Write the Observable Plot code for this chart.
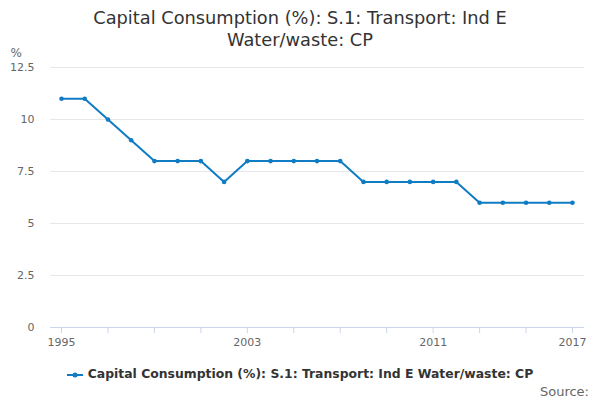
<!DOCTYPE html>
<html>
<head>
<meta charset="utf-8">
<script src="https://cdn.jsdelivr.net/npm/d3@7"></script>
<script src="https://cdn.jsdelivr.net/npm/@observablehq/plot@0.6"></script>
<style>
  body { margin: 0; background: #fff; font-family: "DejaVu Sans", sans-serif; }
  #wrap { position: relative; width: 600px; height: 400px; overflow: hidden; background: #fff; }
  #title { position: absolute; top: 7px; left: 0; width: 600px; text-align: center; font-size: 17.8px; line-height: 22px; color: #333; z-index: 2; }
  #chart { position: absolute; top: 45px; left: 0; z-index: 1; }
  #legend { position: absolute; top: 366px; left: 0; width: 600px; text-align: center; font-size: 12.4px; font-weight: bold; color: #333; }
  #legend svg { vertical-align: middle; margin-right: 5px; }
  #source { position: absolute; top: 384px; right: 11px; font-size: 13px; color: #666; }
</style>
</head>
<body>
<div id="wrap">
  <div id="title">Capital Consumption (%): S.1: Transport: Ind E<br>Water/waste: CP</div>
  <div id="chart"></div>
  <div id="legend"><svg width="16" height="6"><line x1="0" y1="3" x2="16" y2="3" stroke="#0f7cc4" stroke-width="2"/><circle cx="8" cy="3" r="2.5" fill="#0f7cc4"/></svg>Capital Consumption (%): S.1: Transport: Ind E Water/waste: CP</div>
  <div id="source">Source:</div>
</div>
<script>
const years = [1995,1996,1997,1998,1999,2000,2001,2002,2003,2004,2005,2006,2007,2008,2009,2010,2011,2012,2013,2014,2015,2016,2017];
const values = [11,11,10,9,8,8,8,7,8,8,8,8,8,7,7,7,7,7,6,6,6,6,6];
const yTicks = [0,2.5,5,7.5,10,12.5];
const xTickMarks = [1995,1997,1999,2001,2003,2005,2007,2009,2011,2013,2015,2017];
const xTickLabels = [1995,2003,2011,2017];

const data = years.map((y, i) => ({year: y, value: values[i]}));
const color = "#0f7cc4";

const chart = Plot.plot({
  width: 600,
  height: 310,
  marginTop: 22,
  marginBottom: 28,
  marginLeft: 50,
  marginRight: 16,
  style: {fontFamily: "DejaVu Sans, sans-serif", fontSize: "11px", color: "#666", background: "transparent"},
  x: {domain: [1995, 2017], insetLeft: 11, insetRight: 12, axis: null},
  y: {domain: [0, 12.5], axis: null},
  marks: [
    Plot.ruleY(yTicks.filter(d => d > 0), {stroke: "#e6e6e6", strokeWidth: 1}),
    Plot.text(yTicks, {x: 1995, y: d => d, text: d => String(d), frameAnchor: "left", textAnchor: "end", dx: -27, fill: "#666", fontSize: 11}),
    Plot.text(["%"], {frameAnchor: "top-left", dx: -40, dy: -19, fill: "#666", fontSize: 12}),
    Plot.axisX({ticks: xTickMarks, tickFormat: d => xTickLabels.includes(d) ? String(d) : "", tickSize: 6, stroke: "#ccd6eb", fill: "#666", fontSize: 11, tickPadding: 5, label: null}),
    Plot.ruleY([0], {stroke: "#ccd6eb", strokeWidth: 1}),
    Plot.line(data, {x: "year", y: "value", stroke: color, strokeWidth: 2}),
    Plot.dot(data, {x: "year", y: "value", fill: color, r: 2.3})
  ]
});
document.getElementById("chart").appendChild(chart);
</script>
</body>
</html>
